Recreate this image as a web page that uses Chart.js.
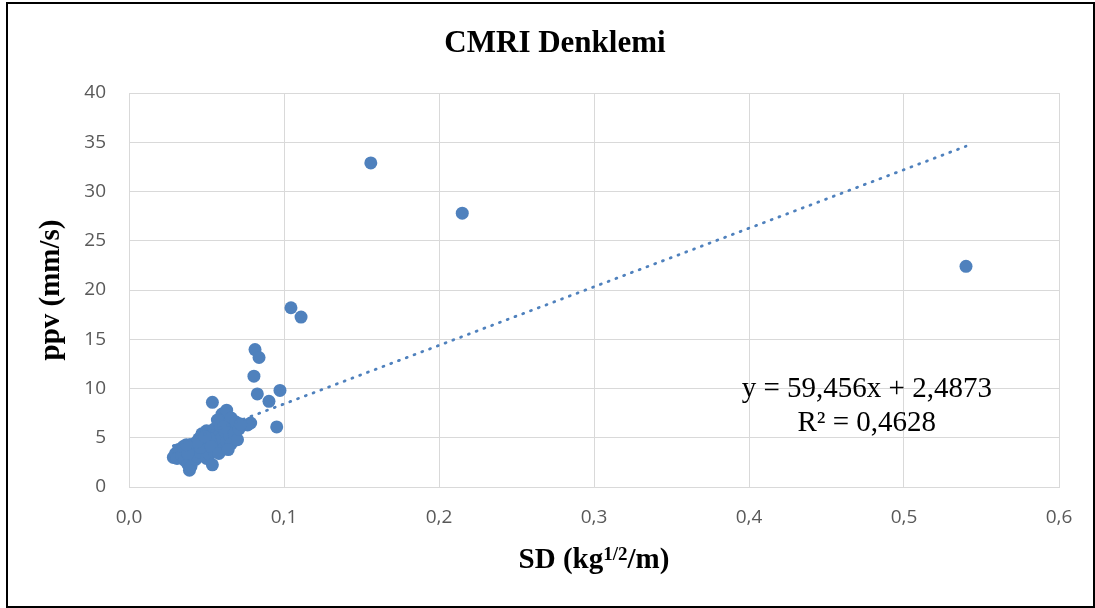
<!DOCTYPE html>
<html lang="tr">
<head>
    <meta charset="UTF-8">
    <title>CMRI Denklemi</title>
    <script src="https://cdn.jsdelivr.net/npm/chart.js"></script>
    <style>
        body { margin: 0; background: #fff; }
        #wrap { position: relative; width: 1095px; height: 608px; }
        #frame { position: absolute; left: 6px; top: 2px; width: 1085px; height: 602px;
                 border: 2px solid #000; pointer-events: none; }
    </style>
</head>
<body>
<div id="wrap">
    <canvas id="myChart"></canvas>
    <div id="frame"></div>
</div>

<script>
    // SD (kg^1/2/m) ve ppv (mm/s) ölçümleri
    const sdValues = [
        0.156, 0.215, 0.540, 0.1045, 0.111, 0.0813, 0.0839, 0.0806, 0.0828, 0.0974,
        0.0903, 0.0953, 0.0538, 0.0785, 0.0765,
        0.0286, 0.030, 0.032, 0.031, 0.034, 0.035, 0.036, 0.038, 0.039, 0.040,
        0.041, 0.042, 0.043, 0.044, 0.045, 0.046, 0.047, 0.048, 0.049, 0.050,
        0.050, 0.051, 0.052, 0.053, 0.0538, 0.054, 0.055, 0.055, 0.056, 0.057,
        0.058, 0.059, 0.060, 0.060, 0.061, 0.062, 0.063, 0.063, 0.064, 0.065,
        0.066, 0.066, 0.067, 0.068, 0.069, 0.070, 0.071, 0.072, 0.046, 0.044,
        0.038, 0.037, 0.052, 0.057, 0.061, 0.049, 0.053, 0.058, 0.064
    ];
    const ppvValues = [
        32.9, 27.8, 22.4, 18.2, 17.25, 13.95, 13.15, 11.25, 9.45, 9.8,
        8.7, 6.1, 8.6, 6.5, 6.3,
        3.0, 3.4, 3.8, 2.9, 3.2, 4.1, 2.7, 2.3, 1.7, 2.1,
        3.6, 4.4, 2.8, 3.1, 4.9, 3.5, 5.4, 4.2, 3.8, 5.7,
        2.9, 4.6, 3.3, 5.2, 2.25, 4.0, 5.9, 3.6, 4.8, 5.3,
        4.3, 6.2, 7.4, 5.0, 3.9, 5.6, 7.8, 4.6, 6.5, 5.2,
        7.0, 4.4, 6.0, 5.5, 6.6, 4.8, 5.9, 6.4, 4.0, 4.6,
        3.4, 4.3, 4.9, 6.8, 6.1, 5.1, 4.1, 3.4, 3.8
    ];

    // Excel eğilim çizgisi: y = 59,456x + 2,4873
    const trendSlope = 59.456;
    const trendIntercept = 2.4873;
    const equationLines = ['y = 59,456x + 2,4873', 'R² = 0,4628'];

    const xTicksMax = 0.6;
    const yTicksMax = 40;

    const points = sdValues.map((v, i) => ({ x: v, y: ppvValues[i] }));
    const sdMin = Math.min(...sdValues);
    const sdMax = Math.max(...sdValues);
    const trendData = [sdMin, sdMax].map(v => ({ x: v, y: trendSlope * v + trendIntercept }));

    const blue = '#4f81bd';
    const serif = '"Liberation Serif", "Times New Roman", serif';

    // başlık, eksen adları ve denklem yazısı
    const textPlugin = {
        id: 'texts',
        afterDraw(chart) {
            const c = chart.ctx;
            const area = chart.chartArea;
            const xs = chart.scales.x, ys = chart.scales.y;
            c.save();
            c.fillStyle = '#000';

            // grafik başlığı
            c.font = 'bold 31px ' + serif;
            c.textAlign = 'center';
            c.textBaseline = 'alphabetic';
            c.fillText('CMRI Denklemi', 555, 52);

            // y ekseni
            c.save();
            c.translate(52, (area.top + area.bottom) / 2);
            c.rotate(-Math.PI / 2);
            c.textBaseline = 'middle';
            c.font = 'bold 29px ' + serif;
            c.fillText('ppv (mm/s)', 0, 0);
            c.restore();

            // x ekseni, üst simgeli
            const big = 'bold 29px ' + serif, small = 'bold 19px ' + serif;
            const parts = [['SD (kg', big, 0], ['1/2', small, -8], ['/m)', big, 0]];
            let total = 0;
            parts.forEach(p => { c.font = p[1]; total += c.measureText(p[0]).width; });
            let x = (area.left + area.right) / 2 - total / 2;
            c.textAlign = 'left';
            parts.forEach(p => {
                c.font = p[1];
                c.fillText(p[0], x, 568 + p[2]);
                x += c.measureText(p[0]).width;
            });

            // denklem
            c.font = '29px ' + serif;
            c.textAlign = 'center';
            const ex = xs.getPixelForValue(0.476);
            c.fillText(equationLines[0], ex, ys.getPixelForValue(9.1));
            c.fillText(equationLines[1], ex, ys.getPixelForValue(5.7));
            c.restore();
        }
    };

    const ctx = document.getElementById('myChart').getContext('2d');
    const myChart = new Chart(ctx, {
        type: 'scatter',
        data: {
            datasets: [
                {
                    label: 'ppv',
                    data: points,
                    backgroundColor: blue,
                    borderWidth: 0,
                    pointRadius: 6.5,
                    order: 2
                },
                {
                    type: 'line',
                    label: 'Doğrusal',
                    data: trendData,
                    borderColor: blue,
                    borderWidth: 2.8,
                    borderDash: [1, 7.3],
                    borderCapStyle: 'round',
                    pointRadius: 0,
                    fill: false,
                    order: 1
                }
            ]
        },
        options: {
            responsive: true,
            maintainAspectRatio: false,
            animation: false,
            events: [],
            layout: { padding: { top: 93, right: 36, left: 0, bottom: 0 } },
            plugins: {
                legend: { display: false },
                title: { display: false },
                tooltip: { enabled: false }
            },
            scales: {
                x: {
                    type: 'linear',
                    min: 0,
                    max: xTicksMax,
                    afterFit: (scale) => { scale.height = 121; },
                    grid: { color: '#d9d9d9', drawTicks: false },
                    border: { color: '#d9d9d9' },
                    ticks: {
                        stepSize: 0.1,
                        padding: 19,
                        color: '#595959',
                        font: { family: '"Open Sans"', size: 19 },
                        callback: (v) => v.toFixed(1).replace('.', ',')
                    }
                },
                y: {
                    min: 0,
                    max: yTicksMax,
                    afterFit: (scale) => { scale.width = 129; },
                    grid: { color: '#d9d9d9', drawTicks: false },
                    border: { color: '#d9d9d9' },
                    ticks: {
                        stepSize: 5,
                        padding: 23,
                        color: '#595959',
                        font: { family: '"Open Sans"', size: 19 }
                    }
                }
            }
        },
        plugins: [textPlugin]
    });
</script>
</body>
</html>
